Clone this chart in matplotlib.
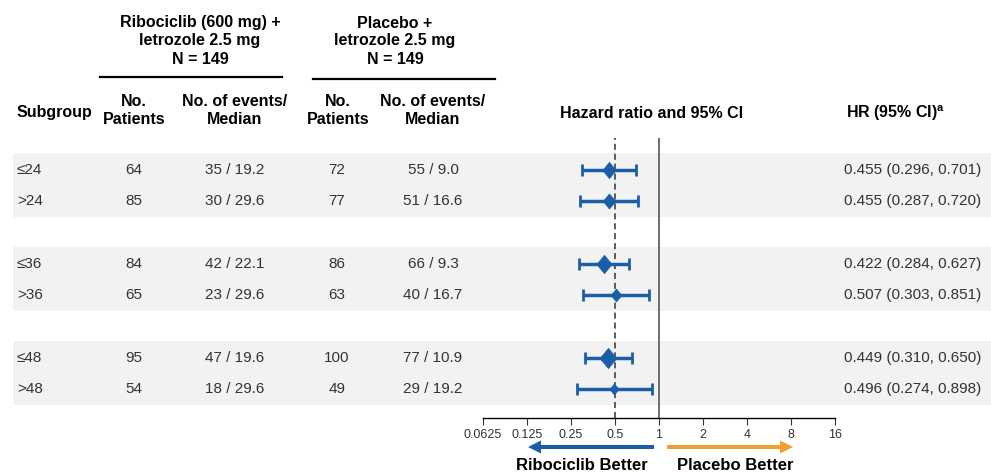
import numpy as np
import matplotlib
matplotlib.use("Agg")
import matplotlib.pyplot as plt

plt.rcParams['font.family'] = ['Liberation Sans', 'DejaVu Sans']

# data
subgroups = ['≤24', '>24', '≤36', '>36', '≤48', '>48']
rib_patients = [64, 85, 84, 65, 95, 54]
rib_events = [35, 30, 42, 23, 47, 18]
rib_median = [19.2, 29.6, 22.1, 29.6, 19.6, 29.6]
pbo_patients = [72, 77, 86, 63, 100, 49]
pbo_events = [55, 51, 66, 40, 77, 29]
pbo_median = [9.0, 16.6, 9.3, 16.7, 10.9, 19.2]
hr = [0.455, 0.455, 0.422, 0.507, 0.449, 0.496]
ci_low = [0.296, 0.287, 0.284, 0.303, 0.310, 0.274]
ci_high = [0.701, 0.720, 0.627, 0.851, 0.650, 0.898]
overall_hr = 0.5
xticks = [0.0625, 0.125, 0.25, 0.5, 1, 2, 4, 8, 16]
xtick_labels = ['0.0625', '0.125', '0.25', '0.5', '1', '2', '4', '8', '16']

# layout (pixels)
W, H = 991, 475
row_idx = np.array([0, 1, 3, 4, 6, 7])
row_step = 31.3
row_y0 = 170
blue = '#1b5ea8'
orange = '#f0a032'
txt = '#333333'
diamond = [(0, 1.2), (1, 0), (0, -1.2), (-1, 0), (0, 1.2)]

fig = plt.figure(figsize=(W / 100, H / 100), dpi=100)
bg = fig.add_axes([0, 0, 1, 1])
bg.set_xlim(0, W)
bg.set_ylim(H, 0)
bg.axis('off')

ypix = row_y0 + row_step * row_idx

# shaded bands for each pair of rows
for i in range(0, len(ypix), 2):
    top = ypix[i] - 0.55 * row_step
    bot = ypix[i + 1] + 0.5 * row_step
    bg.fill_between([13, W], top, bot, color='#f2f2f2', lw=0, zorder=0)

# group headers
hdr = dict(ha='center', va='center', fontsize=11.5, fontweight='bold', linespacing=1.25)
bg.text(200, 41, 'Ribociclib (600 mg) +\nletrozole 2.5 mg\nN = 149', **hdr)
bg.text(395, 41, 'Placebo +\nletrozole 2.5 mg\nN = 149', **hdr)
bg.plot([100, 282], [77, 77], color='black', lw=1.6)
bg.plot([313, 495], [79, 79], color='black', lw=1.6)

bg.text(17, 113, 'Subgroup', ha='left', va='center', fontsize=11.5, fontweight='bold')
for x in (134, 338):
    bg.text(x, 111, 'No.\nPatients', **hdr)
for x in (235, 433):
    bg.text(x, 111, 'No. of events/\nMedian', **hdr)
bg.text(652, 113, 'Hazard ratio and 95% CI', ha='center', va='center',
        fontsize=11.5, fontweight='bold')
bg.text(896, 113, r'HR (95% CI)$^{\mathregular{a}}$', ha='center', va='center',
        fontsize=11.5, fontweight='bold')

# table body
body = dict(va='center', fontsize=11, color=txt)
for k, y in enumerate(ypix):
    bg.text(17, y, subgroups[k], ha='left', **body)
    bg.text(134, y, str(rib_patients[k]), ha='center', **body)
    bg.text(235, y, f'{rib_events[k]} / {rib_median[k]:.1f}', ha='center', **body)
    bg.text(337, y, str(pbo_patients[k]), ha='center', **body)
    bg.text(433, y, f'{pbo_events[k]} / {pbo_median[k]:.1f}', ha='center', **body)
    bg.text(981, y, f'{hr[k]:.3f} ({ci_low[k]:.3f}, {ci_high[k]:.3f})', ha='right', **body)

# arrows and labels
bg.arrow(654, 447, -126, 0, width=4, head_width=13, head_length=13,
         length_includes_head=True, color=blue, lw=0)
bg.arrow(667, 447, 126, 0, width=4, head_width=13, head_length=13,
         length_includes_head=True, color=orange, lw=0)
bg.text(582, 466, 'Ribociclib Better', ha='center', va='center', fontsize=12, fontweight='bold')
bg.text(735, 466, 'Placebo Better', ha='center', va='center', fontsize=12, fontweight='bold')

# forest plot axes
ax_top, ax_bot = 138, 418
ax = fig.add_axes([483 / W, (H - ax_bot) / H, 352 / W, (ax_bot - ax_top) / H])
ax.patch.set_alpha(0)
ax.set_xscale('log', base=2)
ax.set_xlim(0.0625, 16)
ax.set_ylim((ax_bot - row_y0) / row_step, (ax_top - row_y0) / row_step)
for s in ('top', 'right', 'left'):
    ax.spines[s].set_visible(False)
ax.spines['bottom'].set_linewidth(1)
ax.set_yticks([])
ax.set_xticks(xticks)
ax.set_xticklabels(xtick_labels)
ax.minorticks_off()
ax.tick_params(axis='x', labelsize=9, colors='#333333', length=5, pad=3)

ax.axvline(1, color='#555555', lw=1.2)
ax.axvline(overall_hr, color='#333333', lw=1.1, ls=(0, (4, 2.5)))

hr_a = np.array(hr)
err = [hr_a - np.array(ci_low), np.array(ci_high) - hr_a]
ax.errorbar(hr_a, row_idx, xerr=err, fmt='none', ecolor=blue, elinewidth=2.5,
            capsize=4, capthick=2, zorder=3)
# marker size grows with the total number of events
total_events = np.array(rib_events) + np.array(pbo_events)
for k in range(len(hr)):
    ax.plot(hr_a[k], row_idx[k], marker=diamond, color=blue,
            ms=0.085 * (total_events[k] + 47), mec=blue, mew=0.5, zorder=4)

fig.savefig('out.png', dpi=100)
